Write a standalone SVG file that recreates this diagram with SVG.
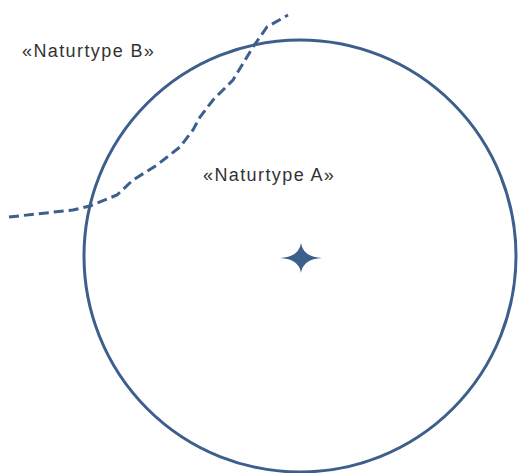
<svg xmlns="http://www.w3.org/2000/svg" width="518" height="473" viewBox="0 0 518 473">
<style>
.ln{fill:none;stroke:#3d5f8c;stroke-width:3}
.dash{stroke-dasharray:10,5}
.lbl{font-family:"Liberation Sans",Arial,sans-serif;font-size:18px;fill:#333;letter-spacing:1.4px}
</style>
<rect width="518" height="473" fill="#fff"/>
<g id="boundary">
<path class="ln dash" d="M9,217 L73,210 L90,206 L117,195 L133,180 L157,165 L180,147 L193,130 L200,117 L213,100 L233,80 L253,47 L267,27 L288,15"/>
</g>
<g id="naturtypeA">
<circle class="ln" cx="300" cy="256" r="216"/>
<path d="M280,258 Q299,257 301,243 Q303,257 322,258 Q303,259 301,273 Q299,259 280,258 Z" fill="#3d5f8c"/>
<text class="lbl" x="203" y="181">«Naturtype A»</text>
</g>
<g id="naturtypeB">
<text class="lbl" x="22" y="57">«Naturtype B»</text>
</g>
</svg>
